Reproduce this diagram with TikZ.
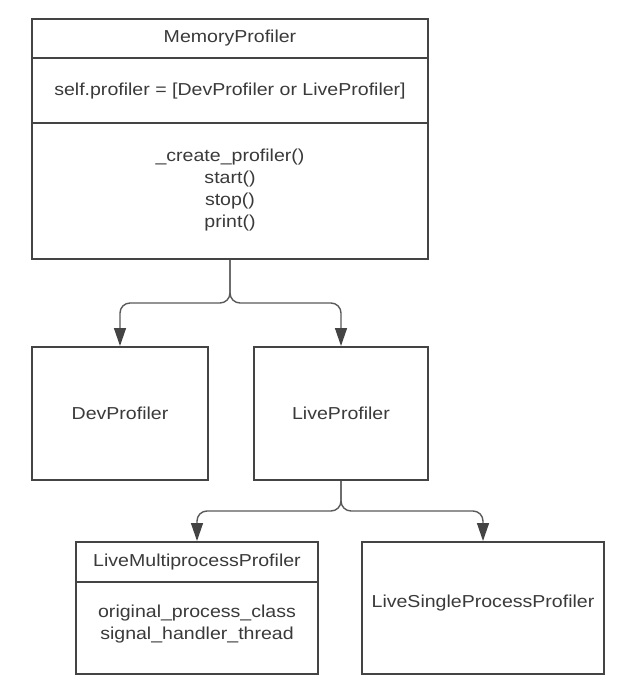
\documentclass[tikz,border=0pt]{standalone}
\usepackage{fontspec}
\setmainfont{Liberation Sans}[FakeStretch=1.13]
\usetikzlibrary{arrows.meta}
\definecolor{boxcol}{HTML}{444444}
\definecolor{txtcol}{HTML}{3A3A3A}
\definecolor{linecol}{HTML}{5A5A5A}
\begin{document}
\begin{tikzpicture}[x=1pt,y=-1pt,
  box/.style={draw=boxcol,line width=2pt,inner sep=0pt,rectangle},
  divider/.style={draw=boxcol,line width=2pt},
  txt/.style={text=txtcol,font=\fontsize{17.3}{22}\selectfont,inner sep=0pt,align=center},
  conn/.style={draw=linecol,line width=1.4pt,rounded corners=10pt,
    -{Triangle[length=18pt,width=12pt,color=boxcol]}}]
\useasboundingbox (0,0) rectangle (639,690);
\fill[white] (0,0) rectangle (639,690);

% boxes
\node[box,minimum width=396pt,minimum height=240pt] (main) at (230,139) {};
\node[box,minimum width=176pt,minimum height=133pt] (dev) at (120,413.5) {};
\node[box,minimum width=174pt,minimum height=133pt] (live) at (341,413.5) {};
\node[box,minimum width=242pt,minimum height=132pt] (lmp) at (197,608) {};
\node[box,minimum width=242pt,minimum height=132pt] (lsp) at (483,608) {};

% dividers
\coordinate (d1) at (0,58);
\coordinate (d2) at (0,123);
\coordinate (d3) at (0,582);
\draw[divider] (main.west |- d1) -- (main.east |- d1);
\draw[divider] (main.west |- d2) -- (main.east |- d2);
\draw[divider] (lmp.west |- d3) -- (lmp.east |- d3);

% texts
\node[txt] (t1) at (230,38) {MemoryProfiler};
\node[txt] (t2) at (230,91) {self.profiler = [DevProfiler or LiveProfiler]};
\node[txt] (t3) at (230,190) {\_create\_profiler()\\start()\\stop()\\print()};
\node[txt] (t4) at (120,413) {DevProfiler};
\node[txt] (t5) at (341,413) {LiveProfiler};
\node[txt] (t6) at (197,562) {LiveMultiprocessProfiler};
\node[txt] (t7) at (197,624) {original\_process\_class\\signal\_handler\_thread};
\node[txt] (t8) at (483,603) {LiveSingleProcessProfiler};

% connectors
\coordinate (b1) at (0,303);
\coordinate (b2) at (0,511);
\draw[conn] (main.south) -- (main.south |- b1) -- (dev.north |- b1) -- (dev.north);
\draw[conn] (main.south) -- (main.south |- b1) -- (live.north |- b1) -- (live.north);
\draw[conn] (live.south) -- (live.south |- b2) -- (lmp.north |- b2) -- (lmp.north);
\draw[conn] (live.south) -- (live.south |- b2) -- (lsp.north |- b2) -- (lsp.north);
\end{tikzpicture}
\end{document}
